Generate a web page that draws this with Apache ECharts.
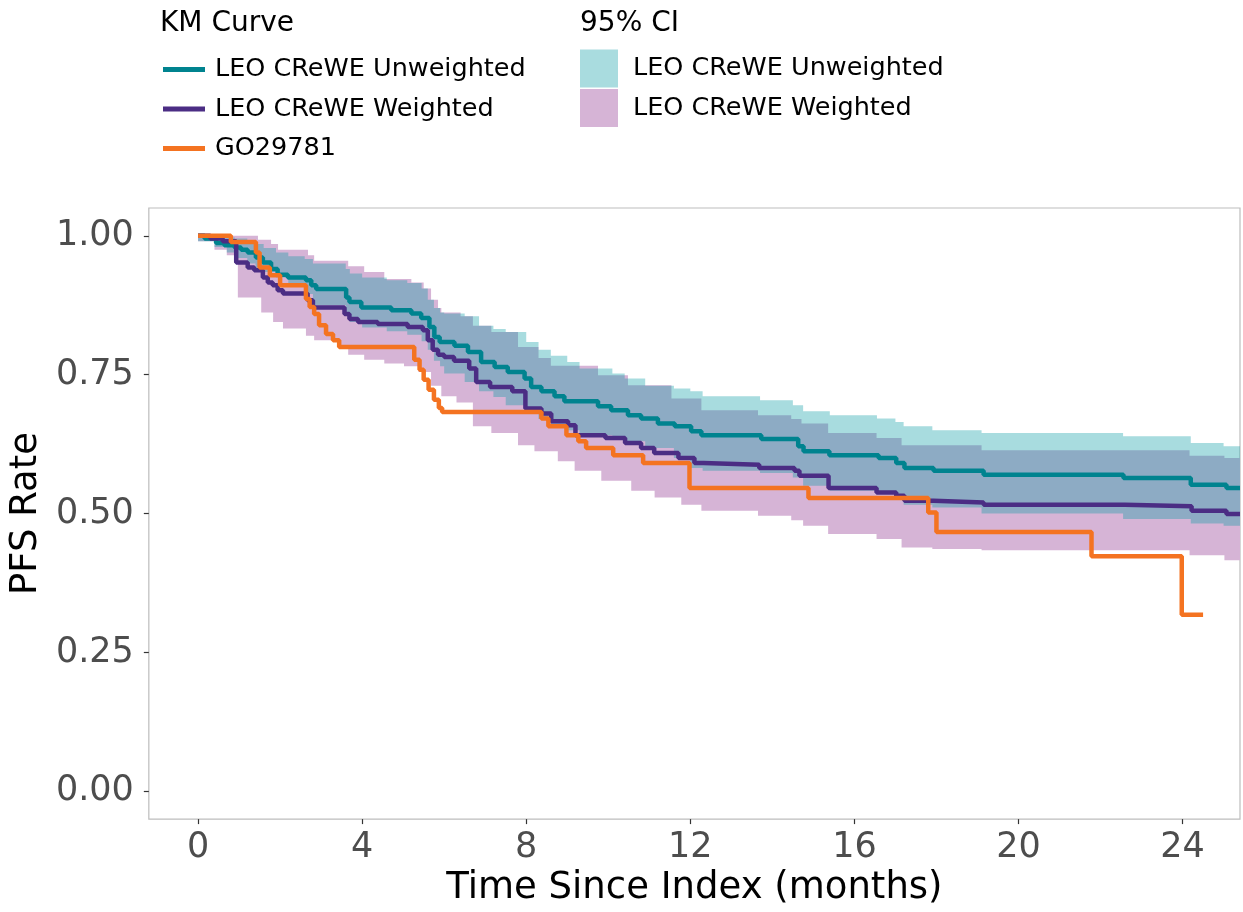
<!DOCTYPE html>
<html>
<head>
<meta charset="utf-8">
<script src="https://cdn.jsdelivr.net/npm/echarts@6/dist/echarts.min.js"></script>
<style>
  html, body { margin: 0; padding: 0; background: #fff; }
  #chart { width: 1243px; height: 912px; }
</style>
</head>
<body>
<div id="chart"></div>
<script>
// KM step curves: [month, PFS rate]
const unweighted = [
  [0, 1.0], [0.16, 0.995], [0.44, 0.987], [0.64, 0.983], [0.89, 0.979], [1.05, 0.975],
  [1.21, 0.97], [1.41, 0.961], [1.58, 0.952], [1.78, 0.94], [1.94, 0.93], [2.19, 0.925],
  [2.63, 0.92], [2.76, 0.911], [2.88, 0.904], [3.61, 0.889], [3.69, 0.881], [3.98, 0.871],
  [4.71, 0.866], [5.2, 0.86], [5.44, 0.852], [5.64, 0.836], [5.76, 0.818], [5.89, 0.809],
  [6.25, 0.802], [6.58, 0.791], [6.9, 0.773], [7.23, 0.764], [7.55, 0.755], [7.96, 0.743],
  [8.12, 0.728], [8.37, 0.72], [8.69, 0.711], [8.93, 0.702], [9.75, 0.693], [10.07, 0.686],
  [10.48, 0.677], [10.8, 0.671], [11.21, 0.662], [11.62, 0.657], [12.02, 0.648], [12.27, 0.641],
  [13.73, 0.634], [14.63, 0.621], [14.76, 0.612], [15.39, 0.605], [16.59, 0.6], [17.02, 0.591],
  [17.22, 0.582], [17.93, 0.577], [19.15, 0.57], [22.56, 0.564], [24.2, 0.552], [25.07, 0.546],
  [25.4, 0.546]
];

const weighted = [
  [0, 1.0], [0.3, 0.995], [0.6, 0.99], [0.93, 0.952], [1.21, 0.943], [1.37, 0.938],
  [1.58, 0.925], [1.7, 0.916], [1.82, 0.911], [1.94, 0.902], [2.07, 0.896], [2.67, 0.884],
  [2.8, 0.871], [3.57, 0.859], [3.69, 0.85], [3.9, 0.845], [4.38, 0.841], [5.11, 0.836],
  [5.48, 0.83], [5.6, 0.812], [5.72, 0.795], [5.85, 0.786], [6.0, 0.782], [6.24, 0.775],
  [6.61, 0.761], [6.78, 0.737], [7.12, 0.728], [7.66, 0.72], [7.98, 0.689], [8.37, 0.68],
  [8.61, 0.666], [9.02, 0.659], [9.2, 0.641], [9.93, 0.636], [10.41, 0.627], [10.8, 0.618],
  [11.12, 0.609], [11.71, 0.6], [12.1, 0.591], [12.32, 0.588], [13.68, 0.582], [14.54, 0.577],
  [14.66, 0.568], [15.37, 0.546], [16.54, 0.538], [17.02, 0.532], [17.22, 0.523], [17.93, 0.52],
  [19.15, 0.516], [22.59, 0.513], [24.22, 0.505], [25.07, 0.499], [25.4, 0.499]
];

const go29781 = [
  [0, 1.0], [0.8, 0.989], [1.41, 0.97], [1.5, 0.943], [1.75, 0.929], [2.0, 0.911],
  [2.63, 0.886], [2.72, 0.872], [2.83, 0.859], [2.95, 0.839], [3.12, 0.823], [3.29, 0.812],
  [3.44, 0.8], [5.27, 0.777], [5.4, 0.759], [5.5, 0.741], [5.62, 0.723], [5.75, 0.705],
  [5.87, 0.69], [5.95, 0.683], [8.37, 0.671], [8.54, 0.657], [8.98, 0.641], [9.27, 0.63],
  [9.46, 0.618], [10.12, 0.605], [10.85, 0.591], [11.98, 0.546], [14.88, 0.528], [17.8, 0.502],
  [18.0, 0.467], [21.78, 0.423], [23.98, 0.318], [24.5, 0.318]
];

// 95% CI bands: [month, lower, upper]
const unweightedCI = [
  [0, 0.99, 1.0], [0.4, 0.98, 1.0], [0.7, 0.97, 0.997], [0.9, 0.96, 0.995], [1.2, 0.95, 0.99],
  [1.4, 0.943, 0.985], [1.6, 0.935, 0.978], [1.9, 0.925, 0.97], [2.2, 0.91, 0.963],
  [2.6, 0.895, 0.958], [2.8, 0.875, 0.95], [3.6, 0.86, 0.94], [3.7, 0.845, 0.932],
  [4.0, 0.835, 0.925], [4.6, 0.828, 0.92], [5.1, 0.822, 0.915], [5.45, 0.81, 0.905],
  [5.6, 0.795, 0.885], [5.75, 0.775, 0.87], [5.9, 0.765, 0.862], [6.0, 0.752, 0.86],
  [6.5, 0.737, 0.855], [6.85, 0.72, 0.838], [7.2, 0.71, 0.832], [7.5, 0.695, 0.827],
  [8.0, 0.68, 0.809], [8.3, 0.67, 0.795], [8.6, 0.659, 0.784], [9.0, 0.65, 0.773],
  [9.3, 0.641, 0.761], [10.1, 0.636, 0.752], [10.4, 0.63, 0.743], [10.9, 0.618, 0.73],
  [11.6, 0.6, 0.725], [12.0, 0.582, 0.72], [12.3, 0.577, 0.711], [13.7, 0.573, 0.704],
  [14.5, 0.565, 0.695], [14.75, 0.55, 0.684], [15.4, 0.541, 0.677], [16.55, 0.535, 0.671],
  [17.0, 0.525, 0.665], [17.2, 0.516, 0.657], [17.9, 0.511, 0.65], [19.1, 0.5, 0.645],
  [22.55, 0.49, 0.639], [24.2, 0.482, 0.627], [25.0, 0.478, 0.621], [25.4, 0.478, 0.621]
];

const weightedCI = [
  [0, 0.99, 1.0], [0.4, 0.975, 1.0], [0.7, 0.965, 1.0], [0.97, 0.889, 1.0], [1.46, 0.889, 0.993],
  [1.54, 0.862, 0.993], [1.78, 0.862, 0.985], [1.83, 0.845, 0.985], [1.95, 0.845, 0.975],
  [2.07, 0.833, 0.975], [2.63, 0.82, 0.975], [2.68, 0.82, 0.965], [2.83, 0.812, 0.955],
  [3.41, 0.8, 0.955], [3.66, 0.786, 0.945], [4.05, 0.777, 0.935], [4.54, 0.77, 0.922],
  [5.02, 0.765, 0.922], [5.2, 0.765, 0.916], [5.37, 0.755, 0.916], [5.5, 0.755, 0.905],
  [5.68, 0.73, 0.885], [5.85, 0.73, 0.87], [5.93, 0.711, 0.862], [6.3, 0.7, 0.862],
  [6.4, 0.7, 0.855], [6.7, 0.657, 0.838], [7.15, 0.645, 0.827], [7.8, 0.623, 0.8],
  [8.2, 0.612, 0.8], [8.3, 0.612, 0.78], [8.6, 0.612, 0.766], [8.77, 0.594, 0.766],
  [9.18, 0.577, 0.766], [9.75, 0.577, 0.749], [9.83, 0.559, 0.749], [10.48, 0.559, 0.731],
  [10.56, 0.541, 0.731], [11.13, 0.529, 0.731], [11.54, 0.529, 0.707], [11.78, 0.516, 0.707],
  [12.27, 0.505, 0.686], [13.65, 0.496, 0.677], [14.46, 0.488, 0.67], [14.71, 0.488, 0.662],
  [14.75, 0.478, 0.662], [15.36, 0.463, 0.645], [16.54, 0.454, 0.636], [17.15, 0.439, 0.623],
  [17.9, 0.436, 0.623], [19.1, 0.434, 0.614], [24.17, 0.425, 0.604], [25.02, 0.416, 0.6],
  [25.4, 0.416, 0.6]
];

const xTicks = [0, 4, 8, 12, 16, 20, 24];
const yTicks = [0, 0.25, 0.5, 0.75, 1.0];

const FONT = 'DejaVu Sans';
const TEAL = '#00838f';
const PURPLE = '#4b2d84';
const ORANGE = '#f47321';

// step-shaped polygon for a CI band, built in data space and mapped with api.coord
function bandRenderer(band, fill) {
  return function (params, api) {
    if (params.dataIndex !== 0) return null;
    const pts = [];
    for (let i = 0; i < band.length; i++) {
      pts.push(api.coord([band[i][0], band[i][2]]));
      if (i < band.length - 1) pts.push(api.coord([band[i + 1][0], band[i][2]]));
    }
    for (let i = band.length - 1; i >= 0; i--) {
      if (i < band.length - 1) pts.push(api.coord([band[i + 1][0], band[i][1]]));
      pts.push(api.coord([band[i][0], band[i][1]]));
    }
    return { type: 'polygon', shape: { points: pts }, style: { fill: fill } };
  };
}

function kmLine(name, data, color) {
  return {
    name: name,
    type: 'line',
    step: 'end',
    data: data,
    showSymbol: false,
    symbol: 'none',
    z: 5,
    color: color,
    lineStyle: { color: color, width: 4.5 }
  };
}

const chart = echarts.init(document.getElementById('chart'));
chart.setOption({
  animation: false,
  backgroundColor: '#fff',
  textStyle: { fontFamily: FONT },
  grid: {
    left: 148, top: 208, width: 1092, height: 615,
    show: true, borderColor: '#bdbdbd', borderWidth: 1.2, backgroundColor: '#fff'
  },
  graphic: [
    { type: 'text', left: 160, top: 10, style: { text: 'KM Curve', font: '28px "DejaVu Sans"', fill: '#000' } },
    { type: 'text', left: 580, top: 10, style: { text: '95% CI', font: '28px "DejaVu Sans"', fill: '#000' } }
  ],
  legend: [
    {
      orient: 'vertical', left: 163, top: 56, padding: 0,
      itemWidth: 42, itemHeight: 5, itemGap: 12.5, selectedMode: false,
      icon: 'rect',
      textStyle: { fontFamily: FONT, fontSize: 25.5, color: '#000', lineHeight: 27, padding: [0, 0, 0, 5] },
      data: [
        { name: 'LEO CReWE Unweighted', itemStyle: { color: TEAL } },
        { name: 'LEO CReWE Weighted', itemStyle: { color: PURPLE } },
        { name: 'GO29781', itemStyle: { color: ORANGE } }
      ]
    },
    {
      orient: 'vertical', left: 580, top: 49.5, padding: 0,
      itemWidth: 38, itemHeight: 38, itemGap: 1.5, selectedMode: false,
      icon: 'rect',
      textStyle: { fontFamily: FONT, fontSize: 25.5, color: '#000', lineHeight: 27, padding: [0, 0, 0, 10] },
      data: [
        { name: 'LEO CReWE Unweighted', itemStyle: { color: '#a9dcdf' } },
        { name: 'LEO CReWE Weighted', itemStyle: { color: '#d6b4d6' } }
      ]
    }
  ],
  xAxis: {
    type: 'value', min: -1.2, max: 25.4,
    name: 'Time Since Index (months)', nameLocation: 'middle', nameGap: 48,
    nameTextStyle: { fontFamily: FONT, fontSize: 37, color: '#000' },
    axisLine: { show: false, onZero: false },
    axisTick: { show: true, length: 5, customValues: xTicks, lineStyle: { color: '#333', width: 1.2 } },
    axisLabel: { customValues: xTicks, fontFamily: FONT, fontSize: 35, color: '#4d4d4d', margin: 11 },
    splitLine: { show: false }
  },
  yAxis: {
    type: 'value', min: -0.05, max: 1.05,
    name: 'PFS Rate', nameLocation: 'middle', nameGap: 100,
    nameTextStyle: { fontFamily: FONT, fontSize: 37, color: '#000' },
    axisLine: { show: false, onZero: false },
    axisTick: { show: true, length: 5, customValues: yTicks, lineStyle: { color: '#333', width: 1.2 } },
    axisLabel: {
      customValues: yTicks, fontFamily: FONT, fontSize: 35, color: '#4d4d4d', margin: 15,
      formatter: function (v) { return v.toFixed(2); }
    },
    splitLine: { show: false }
  },
  series: [
    {
      name: 'LEO CReWE Weighted', type: 'custom', z: 1, clip: true,
      data: weightedCI, encode: { x: 0, y: [1, 2] },
      itemStyle: { color: '#d6b4d6' },
      renderItem: bandRenderer(weightedCI, '#d6b4d6')
    },
    {
      name: 'LEO CReWE Unweighted', type: 'custom', z: 2, clip: true,
      data: unweightedCI, encode: { x: 0, y: [1, 2] },
      itemStyle: { color: '#a9dcdf' },
      renderItem: bandRenderer(unweightedCI, 'rgba(6,155,164,0.35)')
    },
    kmLine('LEO CReWE Unweighted', unweighted, TEAL),
    kmLine('LEO CReWE Weighted', weighted, PURPLE),
    kmLine('GO29781', go29781, ORANGE)
  ]
});
</script>
</body>
</html>
